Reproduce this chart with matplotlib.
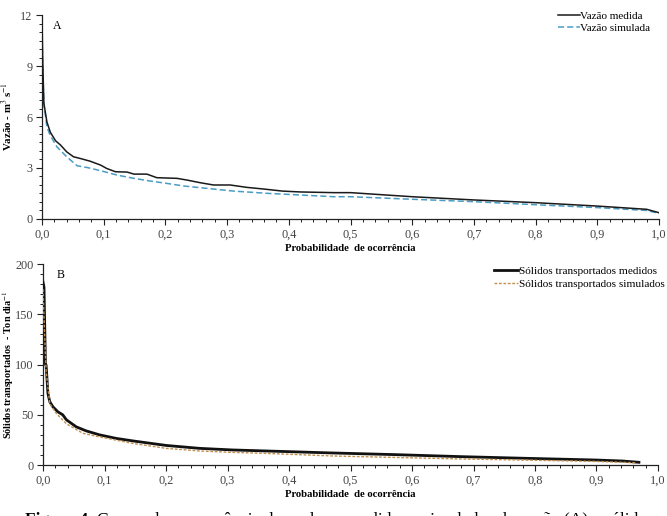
import matplotlib
matplotlib.use("Agg")
import matplotlib.pyplot as plt
from matplotlib.ticker import MultipleLocator, FuncFormatter

# ---- Data ----
# Panel A: flow duration curve (m3 s-1)
prob_q_med = [0.0, 0.001, 0.003, 0.008, 0.0135, 0.022, 0.03, 0.04, 0.051, 0.062, 0.078,
              0.095, 0.105, 0.119, 0.138, 0.149, 0.17, 0.186, 0.219, 0.235, 0.257,
              0.278, 0.305, 0.332, 0.36, 0.39, 0.419, 0.473, 0.5, 0.6, 0.7, 0.8,
              0.9, 0.98, 1.0]
q_med = [11.8, 9.5, 6.8, 5.7, 5.1, 4.6, 4.35, 3.95, 3.66, 3.56, 3.4,
         3.17, 2.97, 2.78, 2.76, 2.64, 2.64, 2.43, 2.39, 2.29, 2.13,
         2.0, 2.0, 1.86, 1.76, 1.64, 1.59, 1.55, 1.55, 1.31, 1.12, 0.96,
         0.76, 0.57, 0.37]

prob_q_sim = [0.0, 0.001, 0.003, 0.008, 0.0135, 0.024, 0.04, 0.057, 0.073, 0.095,
              0.122, 0.149, 0.176, 0.203, 0.23, 0.257, 0.284, 0.311, 0.365, 0.419,
              0.473, 0.5, 0.6, 0.7, 0.8, 0.9, 0.98, 1.0]
q_sim = [11.2, 9.0, 6.8, 5.4, 4.9, 4.25, 3.66, 3.13, 3.03, 2.84,
         2.58, 2.39, 2.23, 2.09, 1.94, 1.84, 1.74, 1.64, 1.51, 1.41,
         1.31, 1.31, 1.16, 1.02, 0.84, 0.67, 0.5, 0.33]

# Panel B: transported solids (Ton dia-1)
prob_s_med = [0.0, 0.0016, 0.003, 0.004, 0.005, 0.008, 0.011, 0.016, 0.024, 0.032,
              0.038, 0.054, 0.07, 0.092, 0.119, 0.146, 0.2, 0.254, 0.308, 0.362,
              0.416, 0.47, 0.575, 0.682, 0.79, 0.898, 0.942, 0.969]
s_med = [182, 177, 131, 100, 99.5, 71, 63, 58, 53, 50,
         45, 38, 34, 30, 26.5, 24, 19.5, 16.6, 15, 14,
         13, 12, 10.3, 8.3, 6.6, 5.0, 4.0, 2.7]

prob_s_sim = [0.0, 0.002, 0.005, 0.011, 0.022, 0.038, 0.065, 0.092, 0.146, 0.2,
              0.254, 0.308, 0.362, 0.47, 0.575, 0.682, 0.79, 0.898, 0.965]
s_sim = [175, 140, 94, 61, 51, 41, 31.5, 28, 21.5, 16.6,
         14, 12.6, 11.6, 9.0, 7.5, 6.0, 4.8, 3.6, 2.2]

x_ticks = [0.0, 0.1, 0.2, 0.3, 0.4, 0.5, 0.6, 0.7, 0.8, 0.9, 1.0]

plt.rcParams['font.family'] = ['Liberation Serif', 'DejaVu Serif']
plt.rcParams['mathtext.fontset'] = 'stix'

fig = plt.figure(figsize=(6.67, 5.16), dpi=100)
axA = fig.add_axes([0.063, 0.5756, 0.925, 0.3953])
axB = fig.add_axes([0.0645, 0.0988, 0.922, 0.3895])

comma = FuncFormatter(lambda v, p: f"{v:.1f}".replace('.', ','))
tick_col = '#444444'

def style(ax, ymax, ymajor, yminor):
    for s in ('top', 'right'):
        ax.spines[s].set_visible(False)
    for s in ('left', 'bottom'):
        ax.spines[s].set_color('#222222')
        ax.spines[s].set_linewidth(0.9)
    ax.set_xlim(0, 1.0)
    ax.set_ylim(0, ymax)
    ax.set_xticks(x_ticks)
    ax.xaxis.set_major_formatter(comma)
    ax.xaxis.set_minor_locator(MultipleLocator(0.02))
    ax.yaxis.set_major_locator(MultipleLocator(ymajor))
    ax.yaxis.set_minor_locator(MultipleLocator(yminor))
    ax.tick_params(which='major', direction='out', length=4, width=0.8,
                   labelsize=8.8, labelcolor=tick_col, color='#222222', pad=3)
    ax.tick_params(which='minor', direction='out', length=2.5, width=0.7,
                   color='#222222')
    ax.set_xlabel('Probabilidade  de ocorrência', fontsize=7.7,
                  fontweight='bold')
    ax.xaxis.set_label_coords(0.5, -0.125)

style(axA, 12, 3, 0.5)
style(axB, 200, 50, 10)

# Panel A
axA.plot(prob_q_med, q_med, color='#1a1a1a', lw=1.1, label='Vazão medida', zorder=3)
axA.plot(prob_q_sim, q_sim, color='#4a9cc4', lw=1.1, ls=(0, (4, 2)),
         label='Vazão simulada', zorder=2)
axA.set_ylabel('Vazão - m$^3$ s$^{-1}$', fontsize=7.8, fontweight='bold')
axA.yaxis.set_label_coords(-0.057, 0.5)
axA.yaxis.label.set_verticalalignment('center')
axA.text(0.018, 0.93, 'A', transform=axA.transAxes, fontsize=8.5)
legA = axA.legend(loc='upper right', bbox_to_anchor=(0.997, 1.05), frameon=False,
                  fontsize=8.0, handlelength=2.0, handletextpad=0.05,
                  labelspacing=0.15, borderaxespad=0.2)

# Panel B
axB.plot(prob_s_med, s_med, color='#111111', lw=2.0,
         label='Sólidos transportados medidos', zorder=3)
axB.plot(prob_s_sim, s_sim, color='#c09050', lw=1.0, ls=(0, (2, 1.2)),
         label='Sólidos transportados simulados', zorder=4)
axB.set_ylabel('Sólidos transportados  - Ton dia$^{-1}$', fontsize=7.3,
               fontweight='bold')
axB.yaxis.set_label_coords(-0.057, 0.5)
axB.yaxis.label.set_verticalalignment('center')
axB.text(0.022, 0.93, 'B', transform=axB.transAxes, fontsize=8.5)
legB = axB.legend(loc='upper right', bbox_to_anchor=(1.022, 1.025), frameon=False,
                  fontsize=8.1, handlelength=2.2, handletextpad=0.05,
                  labelspacing=0.32, borderaxespad=0.2)

# Caption partly cut by the bottom edge (as in the reference)
fig.text(0.037, -0.008, 'Figura 4.', fontsize=12.5, fontweight='bold',
         va='center', ha='left')
fig.text(0.145, -0.008, 'Curvas de permanência dos valores medidos e simulados de vazão (A) e sólidos',
         fontsize=12.5, va='center', ha='left')

fig.savefig('out.png', dpi=100)
